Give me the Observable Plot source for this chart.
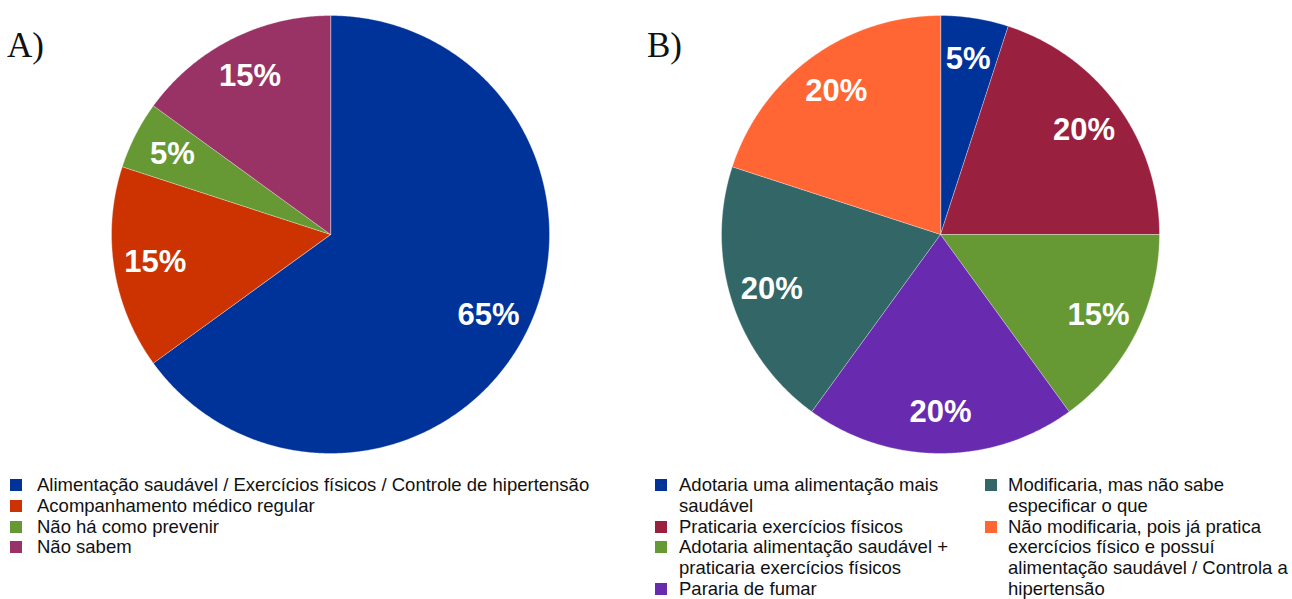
<!DOCTYPE html>
<html>
<head>
<meta charset="utf-8">
<script src="https://cdn.jsdelivr.net/npm/d3@7"></script>
<script src="https://cdn.jsdelivr.net/npm/@observablehq/plot@0.6"></script>
<style>
  body { margin: 0; background: #fff; }
  #root { position: relative; width: 1292px; height: 599px; overflow: hidden;
          font-family: "Liberation Sans", Arial, sans-serif; }
  .panel-label { position: absolute; top: 28px; font-family: "Liberation Serif", "Times New Roman", serif;
                 font-size: 35px; line-height: 35px; color: #111; }
  .chart { position: absolute; top: 0; }
  .legend { position: absolute; top: 475px; font-size: 18.5px; line-height: 20.8px; color: #111; }
  .item { display: flex; align-items: flex-start; white-space: pre-line; }
  .sw { width: 12px; height: 12px; flex: none; margin-top: 4px; }
</style>
</head>
<body>
<div id="root">
  <div class="panel-label" style="left:7px">A)</div>
  <div class="panel-label" style="left:647px">B)</div>
</div>
<script>
// Panel A: how hypertension can be prevented
const categoriesA = [
  "Alimentação saudável / Exercícios físicos / Controle de hipertensão",
  "Acompanhamento médico regular",
  "Não há como prevenir",
  "Não sabem"
];
const valuesA = [65, 15, 5, 15];
const paletteA = ["#003399", "#cc3300", "#669933", "#993366"];

// Panel B: what respondents would change in their habits
const categoriesB = [
  "Adotaria uma alimentação mais\nsaudável",
  "Praticaria exercícios físicos",
  "Adotaria alimentação saudável +\npraticaria exercícios físicos",
  "Pararia de fumar",
  "Modificaria, mas não sabe\nespecificar o que",
  "Não modificaria, pois já pratica\nexercícios físico e possuí\nalimentação saudável / Controla a\nhipertensão"
];
const valuesB = [5, 20, 15, 20, 20, 20];
const paletteB = ["#003399", "#99203f", "#669933", "#682bb0", "#336666", "#ff6633"];

const R = 219;   // pie radius in px
const CY = 234;  // pie centre, px from top
const H = 468;   // svg height

function pieChart(categories, values, palette, left, width, cx) {
  // slices run clockwise from 12 o'clock, in data order
  const arcs = d3.pie().sort(null).value(d => d)(values);
  const pts = [];
  arcs.forEach((a, i) => {
    const cat = categories[i];
    pts.push({cat, x: 0, y: 0});
    const n = Math.max(2, Math.ceil((a.endAngle - a.startAngle) / (Math.PI / 360)));
    for (let k = 0; k <= n; k++) {
      const t = a.startAngle + (a.endAngle - a.startAngle) * k / n;
      pts.push({cat, x: Math.sin(t), y: Math.cos(t)});
    }
  });
  const labels = arcs.map((a, i) => {
    const m = (a.startAngle + a.endAngle) / 2;
    return {x: 0.81 * Math.sin(m), y: 0.81 * Math.cos(m), text: values[i] + "%"};
  });
  return Plot.plot({
    width, height: H, margin: 0,
    x: {domain: [-(cx - left) / R, (left + width - cx) / R], axis: null},
    y: {domain: [-(H - CY) / R, CY / R], axis: null},
    color: {domain: categories, range: palette},
    marks: [
      Plot.line(pts, {x: "x", y: "y", z: "cat", fill: "cat", stroke: "white",
                      strokeWidth: 0.7, strokeOpacity: 0.5, curve: "linear-closed"}),
      Plot.text(labels, {x: "x", y: "y", text: "text", fill: "white", fontSize: 31,
                         fontWeight: "bold", fontFamily: "Liberation Sans, Arial, sans-serif"})
    ]
  });
}

function legend(categories, palette, left, gap) {
  const box = document.createElement("div");
  box.className = "legend";
  box.style.left = left + "px";
  categories.forEach((c, i) => {
    const it = document.createElement("div");
    it.className = "item";
    const sw = document.createElement("div");
    sw.className = "sw";
    sw.style.background = palette[i];
    sw.style.marginRight = gap + "px";
    const tx = document.createElement("div");
    tx.textContent = c;
    it.append(sw, tx);
    box.append(it);
  });
  return box;
}

const root = document.getElementById("root");

const svgA = pieChart(categoriesA, valuesA, paletteA, 0, 646, 330);
svgA.classList.add("chart"); svgA.style.left = "0px";
const svgB = pieChart(categoriesB, valuesB, paletteB, 646, 646, 940);
svgB.classList.add("chart"); svgB.style.left = "646px";
root.append(svgA, svgB);

root.append(legend(categoriesA, paletteA, 10, 15));
root.append(legend(categoriesB.slice(0, 4), paletteB.slice(0, 4), 655, 12));
root.append(legend(categoriesB.slice(4), paletteB.slice(4), 985, 11));
</script>
</body>
</html>
